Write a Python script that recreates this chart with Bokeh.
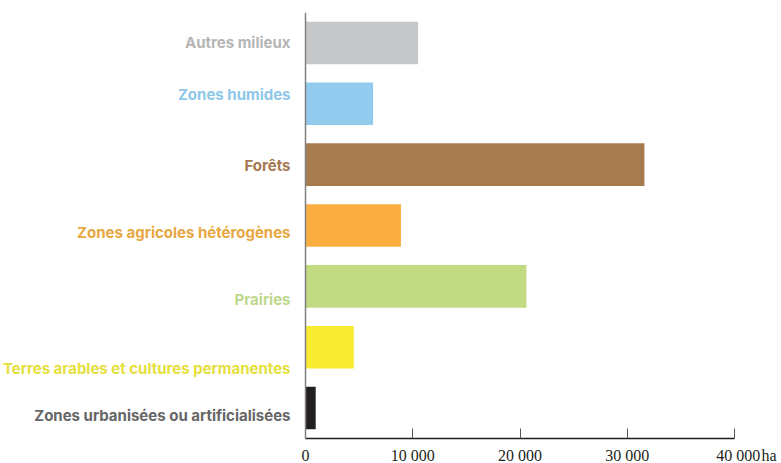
from bokeh.plotting import figure
from bokeh.models import ColumnDataSource, FactorRange, Range1d, FixedTicker, Span
from bokeh.core.properties import value
from bokeh.embed import file_html
from bokeh.resources import INLINE

# Data (top to bottom as displayed)
categories = [
    "Autres milieux",
    "Zones humides",
    "Forêts",
    "Zones agricoles hétérogènes",
    "Prairies",
    "Terres arables et cultures permanentes",
    "Zones urbanisées ou artificialisées",
]
values_ha = [10500, 6300, 31600, 8900, 20600, 4500, 950]
tick_values = [0, 10000, 20000, 30000, 40000]
tick_labels = ["0", "10 000", "20 000", "30 000", "\u2007\u2007\u200740 000\u200aha"]

# Styles
bar_colors = ["#c6c7c9", "#93cbef", "#a87b4f", "#fbae40", "#c2db82", "#f8ec31", "#231f20"]
label_colors = ["#b5b5b5", "#8ec7e8", "#a47850", "#e9a741", "#bcd98b", "#e5e03c", "#666666"]
label_shift_px = [0, -9, 1, 7, 13, 21, 7]  # label placement as in the original layout

source = ColumnDataSource(dict(cat=categories, val=values_ha, bc=bar_colors, lc=label_colors,
                               dy=label_shift_px, zero=[0] * len(categories)))

# frame spans the label area on the left too (x < 0), bars start at 0
p = figure(
    y_range=FactorRange(factors=list(reversed(categories)), range_padding=0),
    x_range=Range1d(-28440, 40000),
    frame_width=734, frame_height=426,
    min_border_left=0, min_border_top=12, min_border_right=47, min_border_bottom=25,
    output_backend="svg", toolbar_location=None,
)
p.outline_line_color = None
p.xgrid.visible = False
p.ygrid.visible = False
p.yaxis.visible = False

p.hbar(y="cat", left=0, right="val", height=0.7, fill_color="bc", line_color=None, source=source)

p.text(x="zero", y="cat", text="cat", source=source, x_offset=-15, y_offset="dy",
       text_align="right", text_baseline="middle", text_color="lc",
       text_font=value("Inter"), text_font_style="bold", text_font_size="15px")

p.add_layout(Span(location=0, dimension="height", line_color="#808080", line_width=1.5))

# x axis
p.xaxis.bounds = (0, 40000)
p.xaxis.ticker = FixedTicker(ticks=tick_values)
p.xaxis.major_label_overrides = {v: l for v, l in zip(tick_values, tick_labels)}
p.xaxis.axis_line_color = "#231f20"
p.xaxis.axis_line_width = 1.3
p.xaxis.major_tick_line_color = "#555555"
p.xaxis.major_tick_in = 10
p.xaxis.major_tick_out = 0
p.xaxis.minor_tick_line_color = None
p.xaxis.major_label_text_font = "Liberation Serif"
p.xaxis.major_label_text_font_size = "16px"
p.xaxis.major_label_text_color = "#231f20"
p.xaxis.major_label_standoff = 8

open("out.html", "w").write(file_html(p, INLINE))
